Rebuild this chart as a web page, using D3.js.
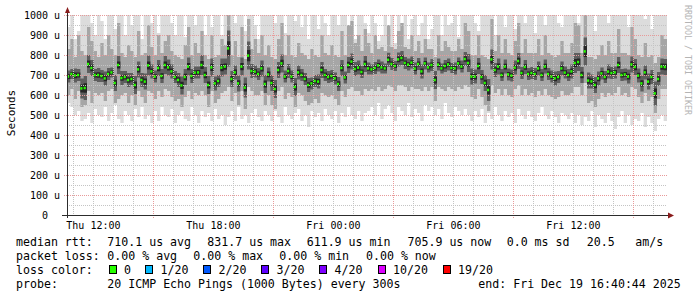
<!DOCTYPE html>
<html>
<head>
<meta charset="utf-8">
<script src="https://cdn.jsdelivr.net/npm/d3@7"></script>
<style>
  html, body { margin: 0; padding: 0; background: #fff; }
  svg text { font-family: "DejaVu Sans Mono", monospace; fill: #000; }
</style>
</head>
<body>
<svg id="chart" width="697" height="297"></svg>
<script>
// 10 minute steps, Thu 10:40:44 .. Fri 16:40:44 (180 steps)
const startTime = Date.UTC(2025, 11, 18, 10, 40, 44);
const endTime = Date.UTC(2025, 11, 19, 16, 40, 44);
const stepMs = 600 * 1000;

// median rtt in microseconds
const medianRtt = [
  692,705,698,700,633,635,755,735,700,700,695,683,705,713,660,750,685,690,675,680,650,728,675,667,748,718,692,735,695,750,
  738,718,690,675,648,690,742,695,712,713,750,700,650,738,658,670,737,742,833,680,713,658,742,637,797,720,717,705,733,655,
  703,660,630,725,758,692,720,692,640,713,700,680,650,658,670,667,725,700,690,695,683,655,735,688,750,767,730,737,715,755,
  733,728,735,748,738,733,776,755,745,778,785,760,752,762,732,755,718,758,738,750,675,752,733,745,753,735,733,758,742,780,
  760,692,692,745,690,660,625,778,725,742,700,742,703,697,737,770,710,740,705,710,705,733,700,742,705,692,683,690,733,712,
  700,718,760,765,700,818,672,668,650,683,708,690,717,710,713,750,700,703,692,753,740,697,658,713,667,690,608,680,742,740
];

// slowest ping per step (clipped at the top of the graph)
const smokeMax = [
  940,1000,880,920,1000,1000,1000,960,900,1000,970,880,1000,1000,930,1000,1000,900,1000,950,1000,1000,880,1000,1000,960,1000,910,1000,1000,
  1000,960,900,1000,1000,890,1000,1000,950,1000,1000,900,1000,940,1000,1000,900,1000,1000,1000,960,1000,1000,920,1000,1000,950,880,1000,1000,
  1000,1000,960,1000,1000,910,1000,1000,970,1000,940,1000,880,1000,1000,930,1000,960,900,1000,1000,950,1000,1000,940,1000,880,1000,1000,960,
  910,1000,960,870,900,1000,930,1000,860,1000,960,1000,880,980,1000,900,960,1000,880,930,1000,1000,900,1000,950,960,1000,890,1000,1000,
  1000,1000,960,920,1000,1000,1000,1000,900,1000,1000,940,1000,1000,930,1000,1000,960,1000,1000,910,1000,1000,950,1000,1000,1000,960,940,1000,
  1000,1000,1000,960,1000,1000,1000,1000,920,1000,1000,1000,960,1000,1000,1000,1000,1000,940,1000,1000,1000,1000,980,1000,930,1000,1000,1000,1000
];

// fastest ping per step
const smokeMin = [
  560,540,500,520,470,480,510,460,530,500,490,540,470,510,550,480,460,520,500,470,530,490,540,480,500,460,520,470,540,500,
  490,530,460,500,520,480,470,540,500,460,520,490,510,470,530,480,500,450,490,520,470,540,480,500,460,510,530,490,470,520,
  500,470,520,490,460,540,500,480,510,530,470,500,440,520,490,510,470,530,500,480,520,460,510,490,540,500,480,520,470,510,
  520,540,500,560,480,530,550,510,470,540,520,500,560,490,530,510,470,550,520,540,500,530,480,560,510,490,540,520,500,530,
  500,470,520,490,530,460,510,480,540,500,470,520,490,510,460,530,500,480,520,490,470,510,540,500,480,520,490,460,510,500,
  480,510,460,500,450,490,470,520,440,500,480,460,510,470,430,490,520,460,500,450,480,470,510,440,490,460,420,480,500,470
];

// upper / lower edge of the middle smoke band
const smokeHi = [
  830,880,790,900,820,800,940,870,820,790,860,800,900,830,800,960,810,790,850,820,790,920,800,810,950,840,800,900,810,870,
  900,820,800,790,780,850,940,800,860,810,920,800,780,900,790,800,880,850,1000,800,870,790,940,780,980,830,880,810,900,800,
  850,790,780,880,960,800,900,800,790,860,810,800,780,830,800,790,900,810,800,850,800,790,920,800,950,970,860,900,820,930,
  860,810,900,830,840,820,950,840,830,920,960,840,830,900,820,870,810,880,830,830,790,900,820,870,840,820,820,880,830,960,
  920,800,800,900,800,790,780,980,820,900,810,880,810,800,870,960,810,880,810,810,810,880,800,900,810,800,790,800,870,810,
  810,860,960,950,810,1000,790,790,780,800,850,800,870,810,810,930,810,810,800,940,880,800,790,860,790,800,760,790,900,880
];
const smokeLo = [
  600,630,580,620,540,550,620,560,610,600,610,570,620,630,560,580,600,610,560,600,550,620,590,560,620,610,580,620,590,630,
  620,590,570,580,540,590,620,580,610,600,620,600,540,620,560,580,610,620,640,570,610,550,620,530,640,620,600,600,620,550,
  600,550,530,620,640,580,610,590,540,610,600,570,550,560,580,560,610,600,590,600,580,550,620,590,630,640,620,620,600,630,
  620,630,620,640,620,630,650,640,620,650,650,640,620,640,630,630,620,640,620,640,570,640,630,620,640,630,620,640,630,650,
  640,590,580,630,590,550,520,650,610,630,600,630,600,590,630,650,600,630,600,610,590,620,600,630,600,590,580,590,620,600,
  600,610,640,640,600,660,560,570,540,580,610,590,610,600,610,640,600,610,590,640,630,590,560,610,570,590,510,580,630,630
];

// half width of the dense core around the median
const smokeCore = [
  30,25,35,30,50,60,45,40,30,35,30,35,30,25,40,45,35,30,35,30,45,40,35,40,50,35,30,40,35,45,
  40,35,30,35,45,40,45,35,30,30,50,40,45,45,35,30,45,40,90,40,35,40,45,50,70,35,30,30,40,45,
  35,40,45,40,45,30,35,30,45,35,30,30,35,30,30,35,40,30,30,30,30,35,40,30,40,40,35,35,30,40,
  30,25,30,30,30,25,35,30,25,35,35,30,30,30,30,30,35,30,25,30,45,30,25,30,30,25,30,30,30,35,
  45,40,35,40,35,40,55,50,35,40,30,35,30,30,35,40,30,35,30,30,30,35,30,35,30,30,35,30,35,30,
  30,35,50,45,40,70,40,35,40,35,30,30,35,30,30,40,30,30,35,40,40,35,40,35,40,35,60,35,40,40
];

const yTicks = [0, 100, 200, 300, 400, 500, 600, 700, 800, 900, 1000];

const legendRtt = [
  ["median rtt:", 16], ["710.1 us avg", 107.3], ["831.7 us max", 207.3], ["611.9 us min", 306.7],
  ["705.9 us now", 407.5], ["0.0 ms sd", 506.7], ["20.5", 586.7], ["am/s", 635.3]
];
const legendLoss = [
  ["packet loss:", 16], ["0.00 % avg", 107.3], ["0.00 % max", 193.3], ["0.00 % min", 279.3], ["0.00 % now", 366]
];
const lossLabels = ["0", "1/20", "2/20", "3/20", "4/20", "10/20", "19/20"];
const lossColors = ["#26ff00", "#00b8ff", "#0059ff", "#5e00ff", "#7e00ff", "#dd00ff", "#ff0000"];
const lossBoxX = [108.7, 145.3, 203.3, 261.3, 319.3, 377.7, 442.7];
const legendProbe = [
  ["probe:", 16], ["20 ICMP Echo Pings (1000 Bytes) every 300s", 107.3], ["end: Fri Dec 19 16:40:44 2025", 478.3]
];

const svg = d3.select("#chart");
const plotLeft = 67, plotRight = 667, plotTop = 15, plotBottom = 215;

const x = d3.scaleUtc().domain([new Date(startTime), new Date(endTime)]).range([plotLeft, plotRight]);
const y = d3.scaleLinear().domain([0, 1000]).range([plotBottom, plotTop]);

// one record per step, plus a closing record so the last step has a width
const steps = medianRtt.map((m, i) => ({
    t: new Date(startTime + i * stepMs),
    med: m, max: smokeMax[i], min: smokeMin[i],
    hi: smokeHi[i], lo: smokeLo[i], core: smokeCore[i]
}));
const closing = Object.assign({}, steps[steps.length - 1], { t: new Date(endTime) });
const series = steps.concat([closing]);

function band(lo, hi) {
    return d3.area()
        .curve(d3.curveStepAfter)
        .x(d => x(d.t))
        .y0(d => y(lo(d)))
        .y1(d => y(hi(d)));
}

const plot = svg.append("g");
plot.append("path").datum(series).attr("fill", "#dcdcdc")
    .attr("d", band(d => d.min, d => d.max));
plot.append("path").datum(series).attr("fill", "#a6a6a6")
    .attr("d", band(d => d.lo, d => d.hi));
plot.append("path").datum(series).attr("fill", "#5e5e5e")
    .attr("d", band(d => d.med - d.core, d => d.med + d.core));
plot.append("path").datum(series).attr("fill", "#262626")
    .attr("d", band(d => d.med - d.core * 0.4, d => d.med + d.core * 0.4));

// grid on top of the smoke, like rrdtool
const grid = svg.append("g").attr("shape-rendering", "crispEdges");
const hours = d3.utcHour.range(new Date(startTime), new Date(endTime));
grid.selectAll("line.vminor")
    .data(hours.filter(h => h.getUTCHours() % 6 !== 3))
    .join("line")
    .attr("x1", d => Math.round(x(d)) + 0.5).attr("x2", d => Math.round(x(d)) + 0.5)
    .attr("y1", plotTop).attr("y2", plotBottom)
    .attr("stroke", "#c4c4c4").attr("stroke-dasharray", "1,1");
const halfSteps = d3.range(50, 1000, 100);
grid.selectAll("line.hminor")
    .data(halfSteps)
    .join("line")
    .attr("x1", plotLeft).attr("x2", plotRight)
    .attr("y1", d => Math.round(y(d)) + 0.5).attr("y2", d => Math.round(y(d)) + 0.5)
    .attr("stroke", "#c4c4c4").attr("stroke-dasharray", "1,1");
const majorHours = hours.filter(h => h.getUTCHours() % 6 === 3);
grid.selectAll("line.vmajor")
    .data(majorHours)
    .join("line")
    .attr("x1", d => Math.round(x(d)) + 0.5).attr("x2", d => Math.round(x(d)) + 0.5)
    .attr("y1", plotTop).attr("y2", plotBottom + 3)
    .attr("stroke", "#e89a9a").attr("stroke-dasharray", "1,1");
grid.selectAll("line.hmajor")
    .data(yTicks.filter(v => v > 0))
    .join("line")
    .attr("x1", plotLeft - 3).attr("x2", plotRight)
    .attr("y1", d => Math.round(y(d)) + 0.5).attr("y2", d => Math.round(y(d)) + 0.5)
    .attr("stroke", "#e89a9a").attr("stroke-dasharray", "1,1");

// median, coloured by loss (0 loss everywhere here)
svg.append("g").selectAll("rect")
    .data(steps)
    .join("rect")
    .attr("x", d => x(d.t))
    .attr("width", d => x(new Date(+d.t + stepMs)) - x(d.t) - 1.2)
    .attr("y", d => y(d.med) - 1.25)
    .attr("height", 2.5)
    .attr("fill", lossColors[0]);

// axes
const axes = svg.append("g").attr("shape-rendering", "crispEdges");
axes.append("line").attr("x1", plotLeft + 0.5).attr("x2", plotLeft + 0.5)
    .attr("y1", plotBottom + 3).attr("y2", 11).attr("stroke", "#2c2c2c");
axes.append("line").attr("x1", plotLeft - 5).attr("x2", plotRight + 3)
    .attr("y1", plotBottom + 0.5).attr("y2", plotBottom + 0.5).attr("stroke", "#2c2c2c");
svg.append("path").attr("d", `M${plotLeft - 2},13 L${plotLeft + 3},13 L${plotLeft + 0.5},7 Z`).attr("fill", "#8a1c1c");
svg.append("path").attr("d", `M${plotRight + 1},${plotBottom - 2.5} L${plotRight + 1},${plotBottom + 3.5} L${plotRight + 7},${plotBottom + 0.5} Z`).attr("fill", "#8a1c1c");

svg.append("g").selectAll("text")
    .data(yTicks)
    .join("text")
    .attr("x", d => d === 0 ? 45 : 60)
    .attr("y", d => y(d) + 3.5)
    .attr("text-anchor", d => d === 0 ? "middle" : "end")
    .attr("font-size", 10)
    .text(d => d === 0 ? "0" : d + " u");

const fmtHour = d3.utcFormat("%a %H:%M");
svg.append("g").selectAll("text")
    .data(hours.filter(h => h.getUTCHours() % 6 === 0))
    .join("text")
    .attr("x", d => x(d))
    .attr("y", 228.5)
    .attr("text-anchor", "middle")
    .attr("font-size", 10)
    .text(d => fmtHour(d));

svg.append("text")
    .attr("transform", "translate(14.5,113) rotate(-90)")
    .attr("text-anchor", "middle")
    .attr("font-size", 11)
    .text("Seconds");

svg.append("text")
    .attr("transform", "translate(684.5,5) rotate(90)")
    .attr("font-size", 8.3)
    .style("fill", "#b4b4b4")
    .text("RRDTOOL / TOBI OETIKER");

// legend
function legendRow(items, baseline) {
    svg.append("g").selectAll("text")
        .data(items)
        .join("text")
        .attr("x", d => d[1])
        .attr("y", baseline)
        .attr("font-size", 11.6)
        .attr("xml:space", "preserve")
        .text(d => d[0]);
}
legendRow(legendRtt, 245.5);
legendRow(legendLoss, 259.5);
legendRow([["loss color:", 16]], 273.5);
legendRow(legendProbe, 287.5);

const lossLegend = svg.append("g");
lossLegend.selectAll("rect")
    .data(lossLabels)
    .join("rect")
    .attr("x", (d, i) => Math.round(lossBoxX[i]) + 0.5)
    .attr("y", 265.5)
    .attr("width", 7).attr("height", 8)
    .attr("fill", (d, i) => lossColors[i])
    .attr("stroke", "#000")
    .attr("shape-rendering", "crispEdges");
lossLegend.selectAll("text")
    .data(lossLabels)
    .join("text")
    .attr("x", (d, i) => lossBoxX[i] + 15.3)
    .attr("y", 273.5)
    .attr("font-size", 11.6)
    .text(d => d);
</script>
</body>
</html>
